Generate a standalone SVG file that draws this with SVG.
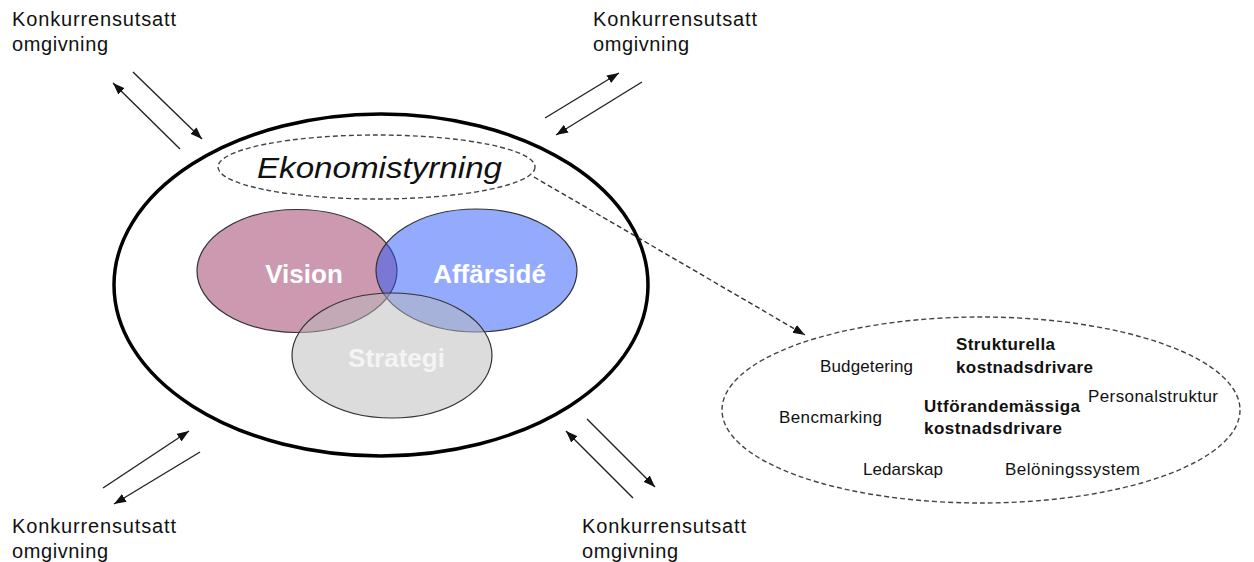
<svg xmlns="http://www.w3.org/2000/svg" width="1254" height="562" viewBox="0 0 1254 562">
<style>
.lbl{font-family:"Liberation Sans",Arial,sans-serif;font-size:20px;fill:#111}
.sm{font-family:"Liberation Sans",Arial,sans-serif;font-size:17px;fill:#111}
.smb{font-family:"Liberation Sans",Arial,sans-serif;font-size:17px;font-weight:bold;fill:#111}
.big{font-family:"Liberation Sans",Arial,sans-serif;font-size:26px;font-weight:bold}
.arr{stroke:#222;stroke-width:1.4;fill:none;marker-end:url(#ah)}
.venn{stroke:#333;stroke-width:1.2}
.dash{fill:none;stroke:#444;stroke-width:1.4;stroke-dasharray:5 3}
</style>
<defs>
<marker id="ah" markerUnits="userSpaceOnUse" markerWidth="13" markerHeight="10" refX="12" refY="4.5" orient="auto">
<path d="M0,0 L12,4.5 L0,9 z" fill="#111"/>
</marker>
</defs>
<rect width="1254" height="562" fill="#fff"/>

<g id="organisation">
<ellipse cx="381" cy="285" rx="267" ry="171" fill="none" stroke="#000" stroke-width="3.5"/>
</g>

<g id="vision">
<ellipse class="venn" cx="297" cy="271" rx="100" ry="61.5" fill="#CC99B0"/>
</g>
<g id="affarside">
<ellipse class="venn" cx="476.5" cy="270.5" rx="100.5" ry="61.5" fill="#2955F9" fill-opacity="0.5"/>
</g>
<g id="strategi">
<ellipse class="venn" cx="392" cy="355.5" rx="100" ry="62.5" fill="#B9B9B9" fill-opacity="0.5"/>
</g>
<g id="venn-labels">
<text class="big" x="304" y="283" text-anchor="middle" fill="#fff">Vision</text>
<text class="big" x="489.5" y="283" text-anchor="middle" fill="#fff">Affärsidé</text>
<text class="big" x="396.5" y="367" text-anchor="middle" fill="#F4F4F4">Strategi</text>
</g>

<g id="ekonomistyrning">
<ellipse class="dash" cx="376.5" cy="167" rx="158.5" ry="32"/>
<text x="257" y="178" textLength="245" lengthAdjust="spacingAndGlyphs" font-family="Liberation Sans, Arial, sans-serif" font-size="30" font-style="italic" fill="#111">Ekonomistyrning</text>
</g>

<g id="detail">
<ellipse class="dash" cx="981" cy="410" rx="259" ry="93"/>
<text class="sm" x="820" y="372" textLength="93">Budgetering</text>
<text class="smb" x="956" y="350" textLength="99">Strukturella</text>
<text class="smb" x="956" y="373" textLength="137">kostnadsdrivare</text>
<text class="sm" x="1088" y="402" textLength="130">Personalstruktur</text>
<text class="sm" x="779" y="423" textLength="103">Bencmarking</text>
<text class="smb" x="924" y="412" textLength="156">Utförandemässiga</text>
<text class="smb" x="924" y="434" textLength="138">kostnadsdrivare</text>
<text class="sm" x="863" y="475" textLength="80">Ledarskap</text>
<text class="sm" x="1005" y="475" textLength="135">Belöningssystem</text>
</g>

<g id="env-tl">
<text class="lbl" x="12" y="26" textLength="164">Konkurrensutsatt</text>
<text class="lbl" x="12" y="51" textLength="96">omgivning</text>
</g>
<g id="env-tr">
<text class="lbl" x="593" y="26" textLength="164">Konkurrensutsatt</text>
<text class="lbl" x="593" y="51" textLength="96">omgivning</text>
</g>
<g id="env-bl">
<text class="lbl" x="12" y="533" textLength="164">Konkurrensutsatt</text>
<text class="lbl" x="12" y="558" textLength="96">omgivning</text>
</g>
<g id="env-br">
<text class="lbl" x="582" y="533" textLength="164">Konkurrensutsatt</text>
<text class="lbl" x="582" y="558" textLength="96">omgivning</text>
</g>

<g id="connectors">
<line class="arr" x1="180" y1="149" x2="113" y2="83"/>
<line class="arr" x1="133" y1="72" x2="202" y2="139"/>
<line class="arr" x1="545" y1="118" x2="619" y2="73"/>
<line class="arr" x1="642" y1="82" x2="556" y2="135"/>
<line class="arr" x1="103" y1="488" x2="189" y2="431"/>
<line class="arr" x1="200" y1="452" x2="114" y2="504"/>
<line class="arr" x1="587" y1="419" x2="655" y2="487"/>
<line class="arr" x1="633" y1="498" x2="566" y2="431"/>
<line x1="534" y1="177" x2="805" y2="335" stroke="#333" stroke-width="1.4" stroke-dasharray="5 3" marker-end="url(#ah)"/>
</g>
</svg>
